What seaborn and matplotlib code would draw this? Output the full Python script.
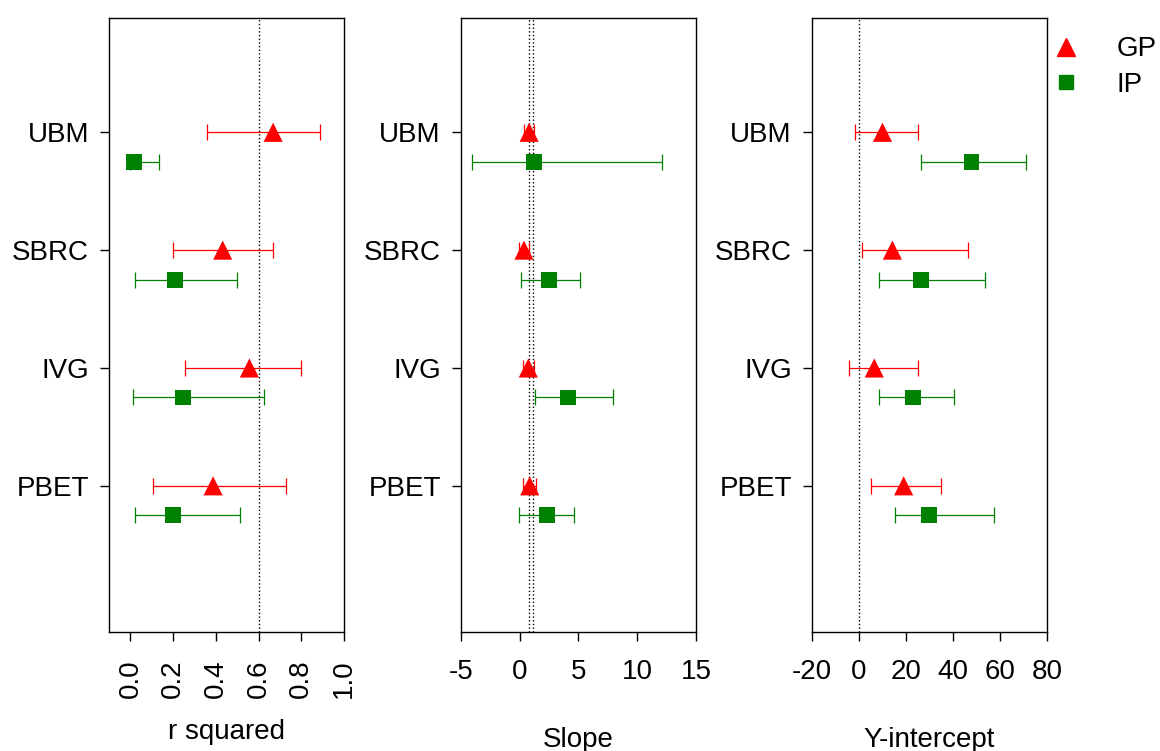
import numpy as np
import pandas as pd
import seaborn as sns
import matplotlib.pyplot as plt
from matplotlib.lines import Line2D

# categories, top to bottom
methods = ['UBM', 'SBRC', 'IVG', 'PBET']
groups = ['GP', 'IP']

# r squared (estimate, lower, upper)
r2_gp = [0.668, 0.432, 0.557, 0.387]
r2_gp_lo = [0.357, 0.200, 0.257, 0.105]
r2_gp_hi = [0.886, 0.668, 0.798, 0.726]
r2_ip = [0.016, 0.210, 0.246, 0.200]
r2_ip_lo = [0.000, 0.022, 0.013, 0.023]
r2_ip_hi = [0.133, 0.499, 0.626, 0.513]

# slope
sl_gp = [0.80, 0.36, 0.73, 0.85]
sl_gp_lo = [0.40, -0.10, 0.28, 0.28]
sl_gp_hi = [1.20, 0.80, 1.24, 1.41]
sl_ip = [1.24, 2.49, 4.11, 2.34]
sl_ip_lo = [-4.04, 0.08, 1.30, -0.04]
sl_ip_hi = [12.1, 5.10, 7.90, 4.64]

# y-intercept
yi_gp = [10.0, 14.2, 6.5, 19.0]
yi_gp_lo = [-1.5, 1.4, -4.3, 5.3]
yi_gp_hi = [25.2, 46.4, 25.3, 34.7]
yi_ip = [47.9, 26.4, 22.9, 29.7]
yi_ip_lo = [26.3, 8.3, 8.6, 15.5]
yi_ip_hi = [71.0, 53.4, 40.6, 57.5]

panels = [
    ('r squared', (r2_gp, r2_gp_lo, r2_gp_hi), (r2_ip, r2_ip_lo, r2_ip_hi),
     (-0.1, 1.0), [0.0, 0.2, 0.4, 0.6, 0.8, 1.0], ['0.0', '0.2', '0.4', '0.6', '0.8', '1.0'], [0.6]),
    ('Slope', (sl_gp, sl_gp_lo, sl_gp_hi), (sl_ip, sl_ip_lo, sl_ip_hi),
     (-5, 15), [-5, 0, 5, 10, 15], ['-5', '0', '5', '10', '15'], [0.8, 1.1]),
    ('Y-intercept', (yi_gp, yi_gp_lo, yi_gp_hi), (yi_ip, yi_ip_lo, yi_ip_hi),
     (-20, 80), [-20, 0, 20, 40, 60, 80], ['-20', '0', '20', '40', '60', '80'], [0]),
]

sns.set_style('white')
plt.rcParams['font.family'] = ['Liberation Sans', 'DejaVu Sans']
plt.rcParams['text.color'] = 'black'
plt.rcParams['axes.labelcolor'] = 'black'
plt.rcParams['xtick.color'] = 'black'
plt.rcParams['ytick.color'] = 'black'

colors = {'GP': '#FF0000', 'IP': '#008000'}
markers = {'GP': '^', 'IP': 's'}
sizes = {'GP': 190, 'IP': 130}
fs = 20

fig = plt.figure(figsize=(11.6, 7.51), dpi=100)
lefts = [0.094, 0.3974, 0.700]
ypos = np.array([4, 3, 2, 1])

for (label, gp, ip, xlim, ticks, ticklabels, refs), left in zip(panels, lefts):
    ax = fig.add_axes([left, 0.1585, 0.2026, 0.8176])
    rows = []
    for grp, (est, lo, hi), off in [('GP', gp, 0.0), ('IP', ip, -0.25)]:
        for m, y, e, l, h in zip(methods, ypos, est, lo, hi):
            rows.append({'method': m, 'group': grp, 'y': y + off, 'est': e, 'lo': l, 'hi': h})
    df = pd.DataFrame(rows)

    for r in refs:
        ax.axvline(r, color='black', linestyle=':', linewidth=1.0, zorder=1)

    for grp in groups:
        sub = df[df['group'] == grp]
        ax.errorbar(sub['est'], sub['y'],
                    xerr=[sub['est'] - sub['lo'], sub['hi'] - sub['est']],
                    fmt='none', ecolor=colors[grp], elinewidth=0.9,
                    capsize=6, capthick=0.9, zorder=2)

    sns.scatterplot(data=df, x='est', y='y', hue='group', style='group',
                    palette=colors, markers=markers, size='group', sizes=sizes,
                    linewidth=0, legend=False, ax=ax, zorder=3)

    ax.set_xlim(*xlim)
    ax.set_ylim(-0.24, 4.97)
    ax.set_xticks(ticks)
    ax.set_xticklabels(ticklabels, fontsize=fs,
                       rotation=90 if label == 'r squared' else 0)
    ax.set_yticks(ypos)
    ax.set_yticklabels(methods, fontsize=fs)
    ax.tick_params(axis='y', direction='out', length=6.5, width=1,
                   left=True, pad=8)
    ax.tick_params(axis='x', direction='out', length=6.5, width=1,
                   bottom=True, pad=13)
    ax.set_ylabel('')
    if label == 'r squared':
        ax.set_xlabel(label, fontsize=fs, labelpad=15)
    else:
        ax.set_xlabel(label, fontsize=fs, labelpad=30)
    for s in ax.spines.values():
        s.set_color('black')
        s.set_linewidth(1.0)

# legend outside the last panel
handles = [Line2D([], [], linestyle='none', marker='^', color=colors['GP'], markersize=13),
           Line2D([], [], linestyle='none', marker='s', color=colors['IP'], markersize=10)]
fig.legend(handles, groups, loc='upper left', bbox_to_anchor=(0.888, 0.985),
           frameon=False, fontsize=fs, handlelength=0.8, handletextpad=1.4,
           labelspacing=0.35)

plt.savefig('out.png', dpi=100)
plt.close()
